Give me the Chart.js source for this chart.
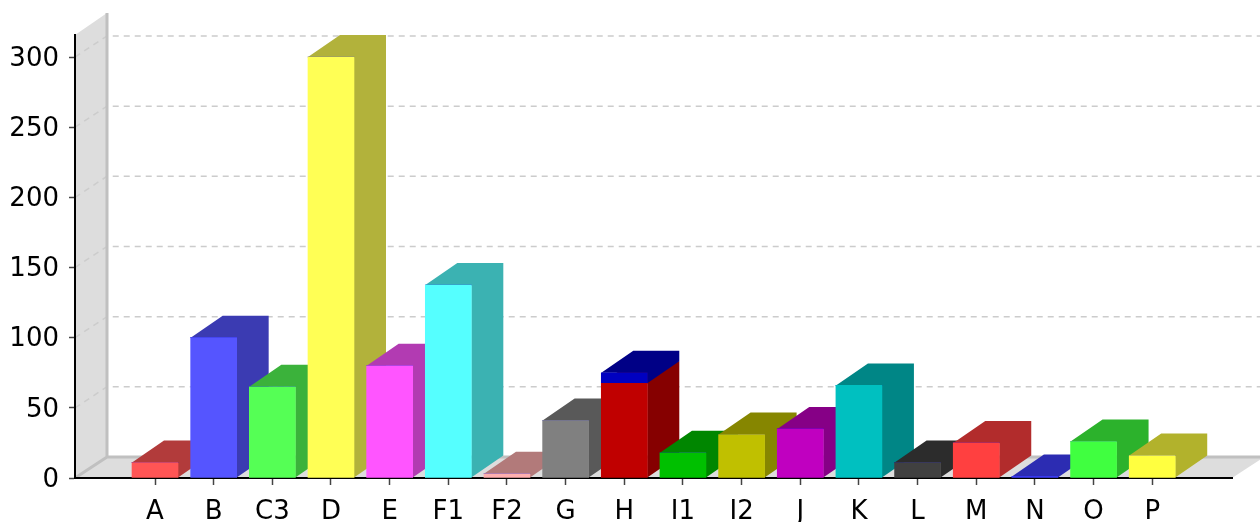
<!DOCTYPE html>
<html>
<head>
<meta charset="utf-8">
<style>
  html, body { margin: 0; padding: 0; background: #fff; }
  canvas { display: block; }
</style>
<script src="https://cdn.jsdelivr.net/npm/chart.js@4"></script>
</head>
<body>
<canvas id="myChart" width="1260" height="522"></canvas>
<script>
// Data
var categories = ['A', 'B', 'C3', 'D', 'E', 'F1', 'F2', 'G', 'H', 'I1', 'I2', 'J', 'K', 'L', 'M', 'N', 'O', 'P'];
var mainValues = [11, 100, 65, 300, 80, 137.5, 3, 41, 67.5, 18, 31, 35, 66, 11, 25, 1, 26, 16];
var extraValues = [0, 0, 0, 0, 0, 0, 0, 0, 7.5, 0, 0, 0, 0, 0, 0, 0, 0, 0];
var yTicks = [0, 50, 100, 150, 200, 250, 300];

// Warna depan tiap batang
var mainColors = ['#ff5555', '#5555ff', '#55ff55', '#ffff55', '#ff55ff', '#55ffff', '#ffafaf', '#808080', '#c00000',
    '#00c000', '#c0c000', '#c000c0', '#00c0c0', '#404040', '#ff4040', '#4040ff', '#40ff40', '#ffff40'];
var extraColor = '#0000c0';

// 3D depth of the plot, in pixels
var depthX = 32;
var depthY = 22;
var gridDepthY = 21;

function darker(hex) {
    var r = parseInt(hex.substr(1, 2), 16);
    var g = parseInt(hex.substr(3, 2), 16);
    var b = parseInt(hex.substr(5, 2), 16);
    return 'rgb(' + Math.floor(r * 0.7) + ',' + Math.floor(g * 0.7) + ',' + Math.floor(b * 0.7) + ')';
}

function poly(ctx, pts, fill) {
    ctx.beginPath();
    ctx.moveTo(pts[0][0], pts[0][1]);
    for (var i = 1; i < pts.length; i++) {
        ctx.lineTo(pts[i][0], pts[i][1]);
    }
    ctx.closePath();
    ctx.fillStyle = fill;
    ctx.fill();
}

// Wall, floor and dashed grid behind everything
var wallPlugin = {
    id: 'wall',
    beforeDraw: function(chart) {
        var ctx = chart.ctx;
        var a = chart.chartArea;
        var y = chart.scales.y;
        var backX = a.left + depthX;
        var backBottom = a.bottom - gridDepthY;

        ctx.save();
        poly(ctx, [[a.left, a.top], [backX, a.top - depthY], [backX, backBottom], [a.left, a.bottom]], '#dddddd');
        poly(ctx, [[a.left, a.bottom], [a.right, a.bottom], [a.right + depthX, backBottom], [backX, backBottom]], '#dddddd');

        ctx.strokeStyle = '#cccccc';
        ctx.lineWidth = 1.5;
        ctx.setLineDash([6, 5]);
        yTicks.forEach(function(t) {
            if (t === 0) return;
            var py = y.getPixelForValue(t);
            ctx.beginPath();
            ctx.moveTo(a.left, py);
            ctx.lineTo(backX, py - gridDepthY);
            ctx.lineTo(chart.width, py - gridDepthY);
            ctx.stroke();
        });
        ctx.setLineDash([]);

        ctx.strokeStyle = '#c0c0c0';
        ctx.lineWidth = 3;
        ctx.beginPath();
        ctx.moveTo(backX, a.top - depthY);
        ctx.lineTo(backX, backBottom);
        ctx.lineTo(chart.width, backBottom);
        ctx.moveTo(backX, backBottom);
        ctx.lineTo(a.left, a.bottom);
        ctx.stroke();
        ctx.restore();
    }
};

// Side and top faces of the bars, left to right, lower segment first
var barFacesPlugin = {
    id: 'barFaces',
    beforeDatasetsDraw: function(chart) {
        var ctx = chart.ctx;
        var metas = [chart.getDatasetMeta(0), chart.getDatasetMeta(1)];
        categories.forEach(function(c, i) {
            metas.forEach(function(meta, d) {
                var bar = meta.data[i];
                var value = chart.data.datasets[d].data[i].y;
                if (!value) return;
                var p = bar.getProps(['x', 'y', 'base', 'width'], true);
                var left = p.x - p.width / 2;
                var right = p.x + p.width / 2;
                var face = darker(d === 0 ? mainColors[i] : extraColor);
                // side and top share one colour, so one outline avoids a seam
                poly(ctx, [[left, p.y], [left + depthX, p.y - depthY], [right + depthX, p.y - depthY],
                    [right + depthX, p.base - depthY], [right, p.base], [right, p.y]], face);
            });
        });
    }
};

var ctx = document.getElementById('myChart').getContext('2d');
var chart = new Chart(ctx, {
    type: 'bar',
    data: {
        datasets: [{
            label: 'main',
            data: mainValues.map(function(v, i) { return { x: i, y: v }; }),
            backgroundColor: mainColors,
            barThickness: 46,
            borderWidth: 0
        }, {
            label: 'extra',
            data: extraValues.map(function(v, i) { return { x: i, y: v }; }),
            backgroundColor: extraColor,
            barThickness: 46,
            borderWidth: 0
        }]
    },
    options: {
        responsive: false,
        animation: false,
        devicePixelRatio: 1,
        layout: { padding: { top: 35, right: 28, left: 0, bottom: 0 } },
        plugins: { legend: { display: false }, tooltip: { enabled: false } },
        scales: {
            x: {
                type: 'linear',
                stacked: true,
                min: -1.364,
                max: 18.36,
                offset: false,
                afterBuildTicks: function(s) {
                    s.ticks = categories.map(function(c, i) { return { value: i }; });
                },
                afterFit: function(s) { s.height = 44; },
                grid: { offset: false, drawOnChartArea: false, drawTicks: true, tickLength: 7, tickColor: '#444444', tickWidth: 1.5 },
                border: { color: '#000000', width: 2 },
                ticks: {
                    autoSkip: false,
                    maxRotation: 0,
                    padding: 12,
                    color: '#000000',
                    font: { family: 'DejaVu Sans', size: 26 },
                    callback: function(v) { return categories[v]; }
                }
            },
            y: {
                stacked: true,
                min: 0,
                max: 315.7,
                afterBuildTicks: function(s) {
                    s.ticks = yTicks.map(function(t) { return { value: t }; });
                },
                afterFit: function(s) { s.width = 75; },
                grid: { drawOnChartArea: false, drawTicks: true, tickLength: 6, tickColor: '#444444', tickWidth: 1.5 },
                border: { color: '#000000', width: 2 },
                ticks: {
                    padding: 10,
                    labelOffset: 2,
                    color: '#000000',
                    font: { family: 'DejaVu Sans', size: 26 }
                }
            }
        }
    },
    plugins: [wallPlugin, barFacesPlugin]
});
</script>
</body>
</html>
